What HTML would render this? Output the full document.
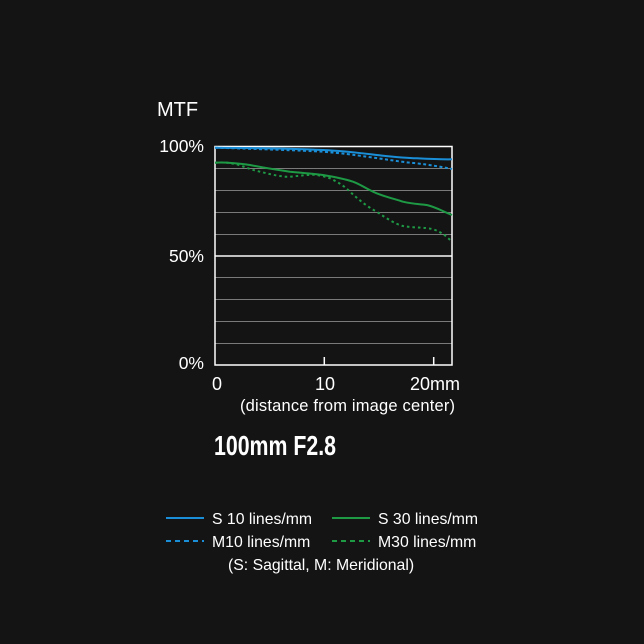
<!DOCTYPE html>
<html><head><meta charset="utf-8"><style>
html,body{margin:0;padding:0;background:#141414;}
svg{display:block}
text{font-family:"Liberation Sans",sans-serif;fill:#fff}
</style></head><body>
<svg width="644" height="644" viewBox="0 0 644 644">
<rect width="644" height="644" fill="#141414"/>
<text x="157" y="116" font-size="20">MTF</text>
<text x="204" y="152" font-size="17.5" text-anchor="end">100%</text>
<text x="204" y="262" font-size="17.5" text-anchor="end">50%</text>
<text x="204" y="369" font-size="17.5" text-anchor="end">0%</text>
<g stroke="#7a7a7a" stroke-width="1">
<line x1="215" x2="452" y1="168.5" y2="168.5"/>
<line x1="215" x2="452" y1="190.5" y2="190.5"/>
<line x1="215" x2="452" y1="212.5" y2="212.5"/>
<line x1="215" x2="452" y1="234.5" y2="234.5"/>
<line x1="215" x2="452" y1="277.5" y2="277.5"/>
<line x1="215" x2="452" y1="299.5" y2="299.5"/>
<line x1="215" x2="452" y1="321.5" y2="321.5"/>
<line x1="215" x2="452" y1="343.5" y2="343.5"/>
</g>
<line x1="215" x2="452" y1="256" y2="256" stroke="#d8d8d8" stroke-width="1.8"/>
<rect x="215" y="146.5" width="237" height="218.5" fill="none" stroke="#fff" stroke-width="1.5"/>
<g stroke="#fff" stroke-width="1.5">
<line x1="324.3" x2="324.3" y1="357" y2="365"/>
<line x1="433.7" x2="433.7" y1="357" y2="365"/>
</g>
<g fill="none" stroke-width="2">
<path d="M215,147.7 C260,148 300,149 323,150 C345,151 360,153 376.7,155 C395,157 405,158 416.7,158.3 C430,159 440,159.5 452,159.3" stroke="#1a8fd8"/>
<path d="M215,147.7 C260,149 300,150.5 323,151.7 C340,153 355,155 366.7,156.7 C385,159 400,162 416.7,163.3 C430,165 440,166.5 452,169" stroke="#1a8fd8" stroke-dasharray="3,2.5"/>
<path d="M215,162.7 C225,162 235,163 250,165 C265,168 278,170 290,171.7 C305,173 315,174 323,175 C335,177 345,179 353,181.7 C362,185 368,190 376.7,193.3 C386,197 395,199 403,201.7 C412,204 420,204 426.7,205 C436,207 444,212 452,215" stroke="#1e9a45"/>
<path d="M215,162.7 C225,162 230,163 236.7,164.3 C245,167 252,170 260,171.7 C270,174 280,177 290,176.7 C300,176 310,174 316.7,175 C322,176 326,177 330,178.3 C338,182 344,186 350,191.7 C358,199 366,206 376.7,211.7 C386,218 395,224 403,226 C413,228 425,227 433,229.3 C442,232 447,237 452,241.7" stroke="#1e9a45" stroke-dasharray="2.5,3"/>
</g>
<text x="217" y="390" font-size="18" text-anchor="middle">0</text>
<text x="325" y="390" font-size="18" text-anchor="middle">10</text>
<text x="460" y="390" font-size="18" text-anchor="end">20mm</text>
<text x="240" y="411" font-size="16.5" textLength="215">(distance from image center)</text>
<text x="214" y="455" font-size="28" font-weight="bold" textLength="122" lengthAdjust="spacingAndGlyphs">100mm F2.8</text>
<line x1="166" x2="204" y1="518" y2="518" stroke="#1a8fd8" stroke-width="2"/>
<line x1="166" x2="204" y1="541" y2="541" stroke="#1a8fd8" stroke-width="2" stroke-dasharray="5,4"/>
<line x1="332" x2="370" y1="518" y2="518" stroke="#1e9a45" stroke-width="2"/>
<line x1="332" x2="370" y1="541" y2="541" stroke="#1e9a45" stroke-width="2" stroke-dasharray="5,4"/>
<text x="212" y="524" font-size="15.8">S 10 lines/mm</text>
<text x="212" y="547" font-size="15.8">M10 lines/mm</text>
<text x="378" y="524" font-size="15.8">S 30 lines/mm</text>
<text x="378" y="547" font-size="15.8">M30 lines/mm</text>
<text x="228" y="570" font-size="15.8">(S: Sagittal, M: Meridional)</text>
</svg>
</body></html>
